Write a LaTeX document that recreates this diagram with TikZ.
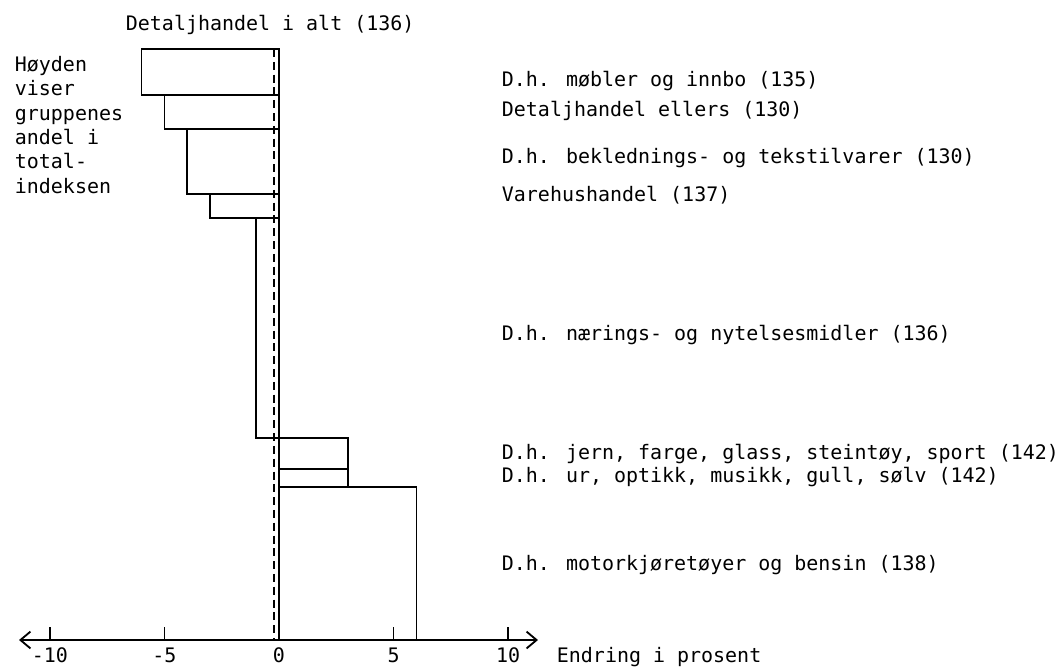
\documentclass[tikz,border=0pt]{standalone}
\usepackage{fontspec}
\setmainfont{DejaVu Sans Mono}
\usetikzlibrary{arrows.meta}

\tikzset{
  txt/.style={inner sep=0pt, font=\fontsize{14.2}{17.4}\selectfont},
  lbl/.style={txt, anchor=base west},
  bar/.style={draw=black, line width=1.3pt},
  barb/.tip={Straight Barb[length=0.25cm, width=0.42cm, line width=1.3pt]},
}

\begin{document}
\begin{tikzpicture}[x=0.025cm, y=-0.025cm, line width=1.3pt]
	\useasboundingbox (0,0) rectangle (1062,666);

	\node[lbl] (total) at (125,30) {Detaljhandel i alt (136)};
	\node[txt, anchor=north west, align=left] (forkl) at (14,55)
		{Høyden\\viser\\gruppenes\\andel i\\total-\\indeksen};

	% bars, x in percent
	\begin{scope}[shift={(279,0)}, x=0.5725cm]
		\draw[bar] (0,49) rectangle (-6,95);
		\draw[bar] (0,95) rectangle (-5,129);
		\draw[bar] (0,129) rectangle (-4,194);
		\draw[bar] (0,194) rectangle (-3,218);
		\draw[bar] (0,218) rectangle (-1,438);
		\draw[bar] (0,438) rectangle (3,469);
		\draw[bar] (0,469) rectangle (3,487);
		\draw[bar] (0,487) rectangle (6,640);
		\draw[line width=1.5pt, dash pattern=on 0.2cm off 0.12cm] (-0.22,49) -- (-0.22,640);

		\foreach \t in {-10,-5,5,10}
			\draw (\t,627) -- (\t,640);
		\foreach \t/\n in {-10/a,-5/b,0/c,5/d,10/e}
			\node[txt, anchor=base] (tick\n) at (\t,662) {\t};
	\end{scope}

	\draw[barb-barb] (19,640) -- (538,640);
	\node[lbl] (akse) at (556,662) {Endring i prosent};

	\node[lbl] (mob) at (501,86)  {D.h. møbler og innbo (135)};
	\node[lbl] (ell) at (501,116) {Detaljhandel ellers (130)};
	\node[lbl] (bek) at (501,163) {D.h. beklednings- og tekstilvarer (130)};
	\node[lbl] (var) at (501,201) {Varehushandel (137)};
	\node[lbl] (nar) at (501,340) {D.h. nærings- og nytelsesmidler (136)};
	\node[lbl] (jern) at (501,459) {D.h. jern, farge, glass, steintøy, sport (142)};
	\node[lbl] (ur) at (501,482) {D.h. ur, optikk, musikk, gull, sølv (142)};
	\node[lbl] (mot) at (501,570) {D.h. motorkjøretøyer og bensin (138)};

\end{tikzpicture}
\end{document}
